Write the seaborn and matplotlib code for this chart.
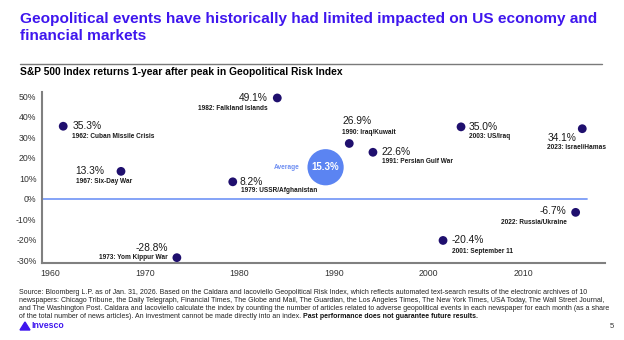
import matplotlib
matplotlib.use("Agg")
import matplotlib.pyplot as plt
import seaborn as sns
import pandas as pd
from matplotlib.patches import Polygon

# ---------------- data ----------------
x_pos = [1961.4, 1967.5, 1973.4, 1979.3, 1984.0, 1991.6, 1994.1, 2001.5, 2003.4, 2015.5, 2016.2]
returns = [35.3, 13.3, -28.8, 8.2, 49.1, 26.9, 22.6, -20.4, 35.0, -6.7, 34.1]
value_labels = ["35.3%", "13.3%", "-28.8%", "8.2%", "49.1%", "26.9%", "22.6%",
                "-20.4%", "35.0%", "-6.7%", "34.1%"]
event_labels = ["1962: Cuban Missile Crisis", "1967: Six-Day War", "1973: Yom Kippur War",
                "1979: USSR/Afghanistan", "1982: Falkland Islands", "1990: Iraq/Kuwait",
                "1991: Persian Gulf War", "2001: September 11", "2003: US/Iraq",
                "2022: Russia/Ukraine", "2023: Israel/Hamas"]
avg_x = [1989.1]
avg_value = [15.3]
avg_label = "15.3%"
y_ticks = [-30, -20, -10, 0, 10, 20, 30, 40, 50]
y_tick_labels = ["-30%", "-20%", "-10%", "0%", "10%", "20%", "30%", "40%", "50%"]
x_ticks = [1960, 1970, 1980, 1990, 2000, 2010]

# label layout (pixel offsets from point: value dx,dy,ha ; event dx,dy,ha) dy positive = down
label_layout = [
    (9, 0, "left", 9, 10, "left"),
    (-17, 0, "right", -45, 10, "left"),
    (-9, -10, "right", -9, 0, "right"),
    (7, 0, "left", 8, 9, "left"),
    (-10, 0, "right", -10, 11, "right"),
    (-7, -22, "left", -7, -11, "left"),
    (9, 0, "left", 9, 9, "left"),
    (9, 0, "left", 9, 11, "left"),
    (8, 0, "left", 8, 10, "left"),
    (-9, -1, "right", -9, 10, "right"),
    (-35, 9, "left", -35, 19, "left"),
]

sns.set_theme(style="white")
plt.rcParams["font.family"] = ["Liberation Sans", "DejaVu Sans"]

TITLE_C = "#3F16EE"
PT_C = "#1F0F6E"
AVG_C = "#5B84F2"
ZERO_C = "#7B9CF7"
SPINE_C = "#808080"

W, H = 624, 340
fig = plt.figure(figsize=(W / 100, H / 100), dpi=100)
fig.patch.set_facecolor("white")

L, R, T, B = 42, 605, 92, 263
ax = fig.add_axes([L / W, 1 - B / H, (R - L) / W, (B - T) / H])
ax.set_facecolor("white")

df = pd.DataFrame({"x": x_pos, "ret": returns})
dfa = pd.DataFrame({"x": avg_x, "ret": avg_value})

ax.axhline(0, xmin=0, xmax=(587 - L) / (R - L), color=ZERO_C, lw=1.3, zorder=1)
sns.scatterplot(data=dfa, x="x", y="ret", s=680, color=AVG_C, edgecolor="none", ax=ax, zorder=2)
sns.scatterplot(data=df, x="x", y="ret", s=40, color=PT_C, edgecolor="none", ax=ax, zorder=3)

ax.set_xlim(1959.16, 2018.6)
ax.set_ylim(-31.4, 52)
ax.set_xticks(x_ticks)
ax.set_xticklabels([str(v) for v in x_ticks])
ax.set_yticks(y_ticks)
ax.set_yticklabels(y_tick_labels)
ax.tick_params(axis="both", length=0, labelsize=6.3, labelcolor="#333333", pad=4)
ax.set_xlabel("")
ax.set_ylabel("")
for s in ["top", "right"]:
    ax.spines[s].set_visible(False)
for s in ["left", "bottom"]:
    ax.spines[s].set_color(SPINE_C)
    ax.spines[s].set_linewidth(1.5)

k = 0.72  # px -> pt
for xv, yv, vl, el, lay in zip(x_pos, returns, value_labels, event_labels, label_layout):
    vdx, vdy, vha, edx, edy, eha = lay
    ax.annotate(vl, (xv, yv), xytext=(vdx * k, -vdy * k), textcoords="offset points",
                ha=vha, va="center", fontsize=7.4, color="#1a1a1a", annotation_clip=False)
    ax.annotate(el, (xv, yv), xytext=(edx * k, -edy * k), textcoords="offset points",
                ha=eha, va="center", fontsize=4.7, fontweight="bold", color="#1a1a1a",
                annotation_clip=False)

ax.annotate(avg_label, (avg_x[0], avg_value[0]), ha="center", va="center",
            fontsize=7, fontweight="bold", color="white")
ax.annotate("Average", (avg_x[0], avg_value[0]), xytext=(-26 * k, 0), textcoords="offset points",
            ha="right", va="center", fontsize=4.8, fontweight="bold", color="#6F8FF2")

# ---------------- titles ----------------
fig.text(20 / W, 1 - 19 / H, "Geopolitical events have historically had limited impacted on US economy and",
         fontsize=11.1, fontweight="bold", color=TITLE_C, ha="left", va="center")
fig.text(20 / W, 1 - 36 / H, "financial markets",
         fontsize=11.1, fontweight="bold", color=TITLE_C, ha="left", va="center")
fig.add_artist(plt.Line2D([20 / W, 602 / W], [1 - 64 / H, 1 - 64 / H], color="#7a7a7a", lw=1.0))
fig.text(20 / W, 1 - 72 / H, "S&P 500 Index returns 1-year after peak in Geopolitical Risk Index",
         fontsize=7.4, fontweight="bold", color="black", ha="left", va="center")

# ---------------- footer ----------------
src_lines = [
    "Source: Bloomberg L.P. as of Jan. 31, 2026. Based on the Caldara and Iacoviello Geopolitical Risk Index, which reflects automated text-search results of the electronic archives of 10",
    "newspapers: Chicago Tribune, the Daily Telegraph, Financial Times, The Globe and Mail, The Guardian, the Los Angeles Times, The New York Times, USA Today, The Wall Street Journal,",
    "and The Washington Post. Caldara and Iacoviello calculate the index by counting the number of articles related to adverse geopolitical events in each newspaper for each month (as a share",
    "of the total number of news articles). An investment cannot be made directly into an index.",
]
ys = [292, 300, 308, 316]
last = None
for line, yy in zip(src_lines, ys):
    last = fig.text(19 / W, 1 - yy / H, line, fontsize=5.0, color="#222222", ha="left", va="center")
ax.annotate(" Past performance does not guarantee future results.", xy=(1, 0.5), xycoords=last,
            ha="left", va="center", fontsize=5.0, fontweight="bold", color="#111111",
            annotation_clip=False)

# Invesco logo
logo = Polygon([[20 / W, 1 - 330 / H], [25 / W, 1 - 322 / H], [30 / W, 1 - 330 / H]],
               closed=True, transform=fig.transFigure, color=TITLE_C)
fig.add_artist(logo)
fig.text(31 / W, 1 - 326 / H, "Invesco", fontsize=6.3, fontweight="bold", color=TITLE_C,
         ha="left", va="center")
fig.text(612 / W, 1 - 326 / H, "5", fontsize=5.5, color="#333333", ha="center", va="center")

fig.savefig("out.png", dpi=100, facecolor="white")
